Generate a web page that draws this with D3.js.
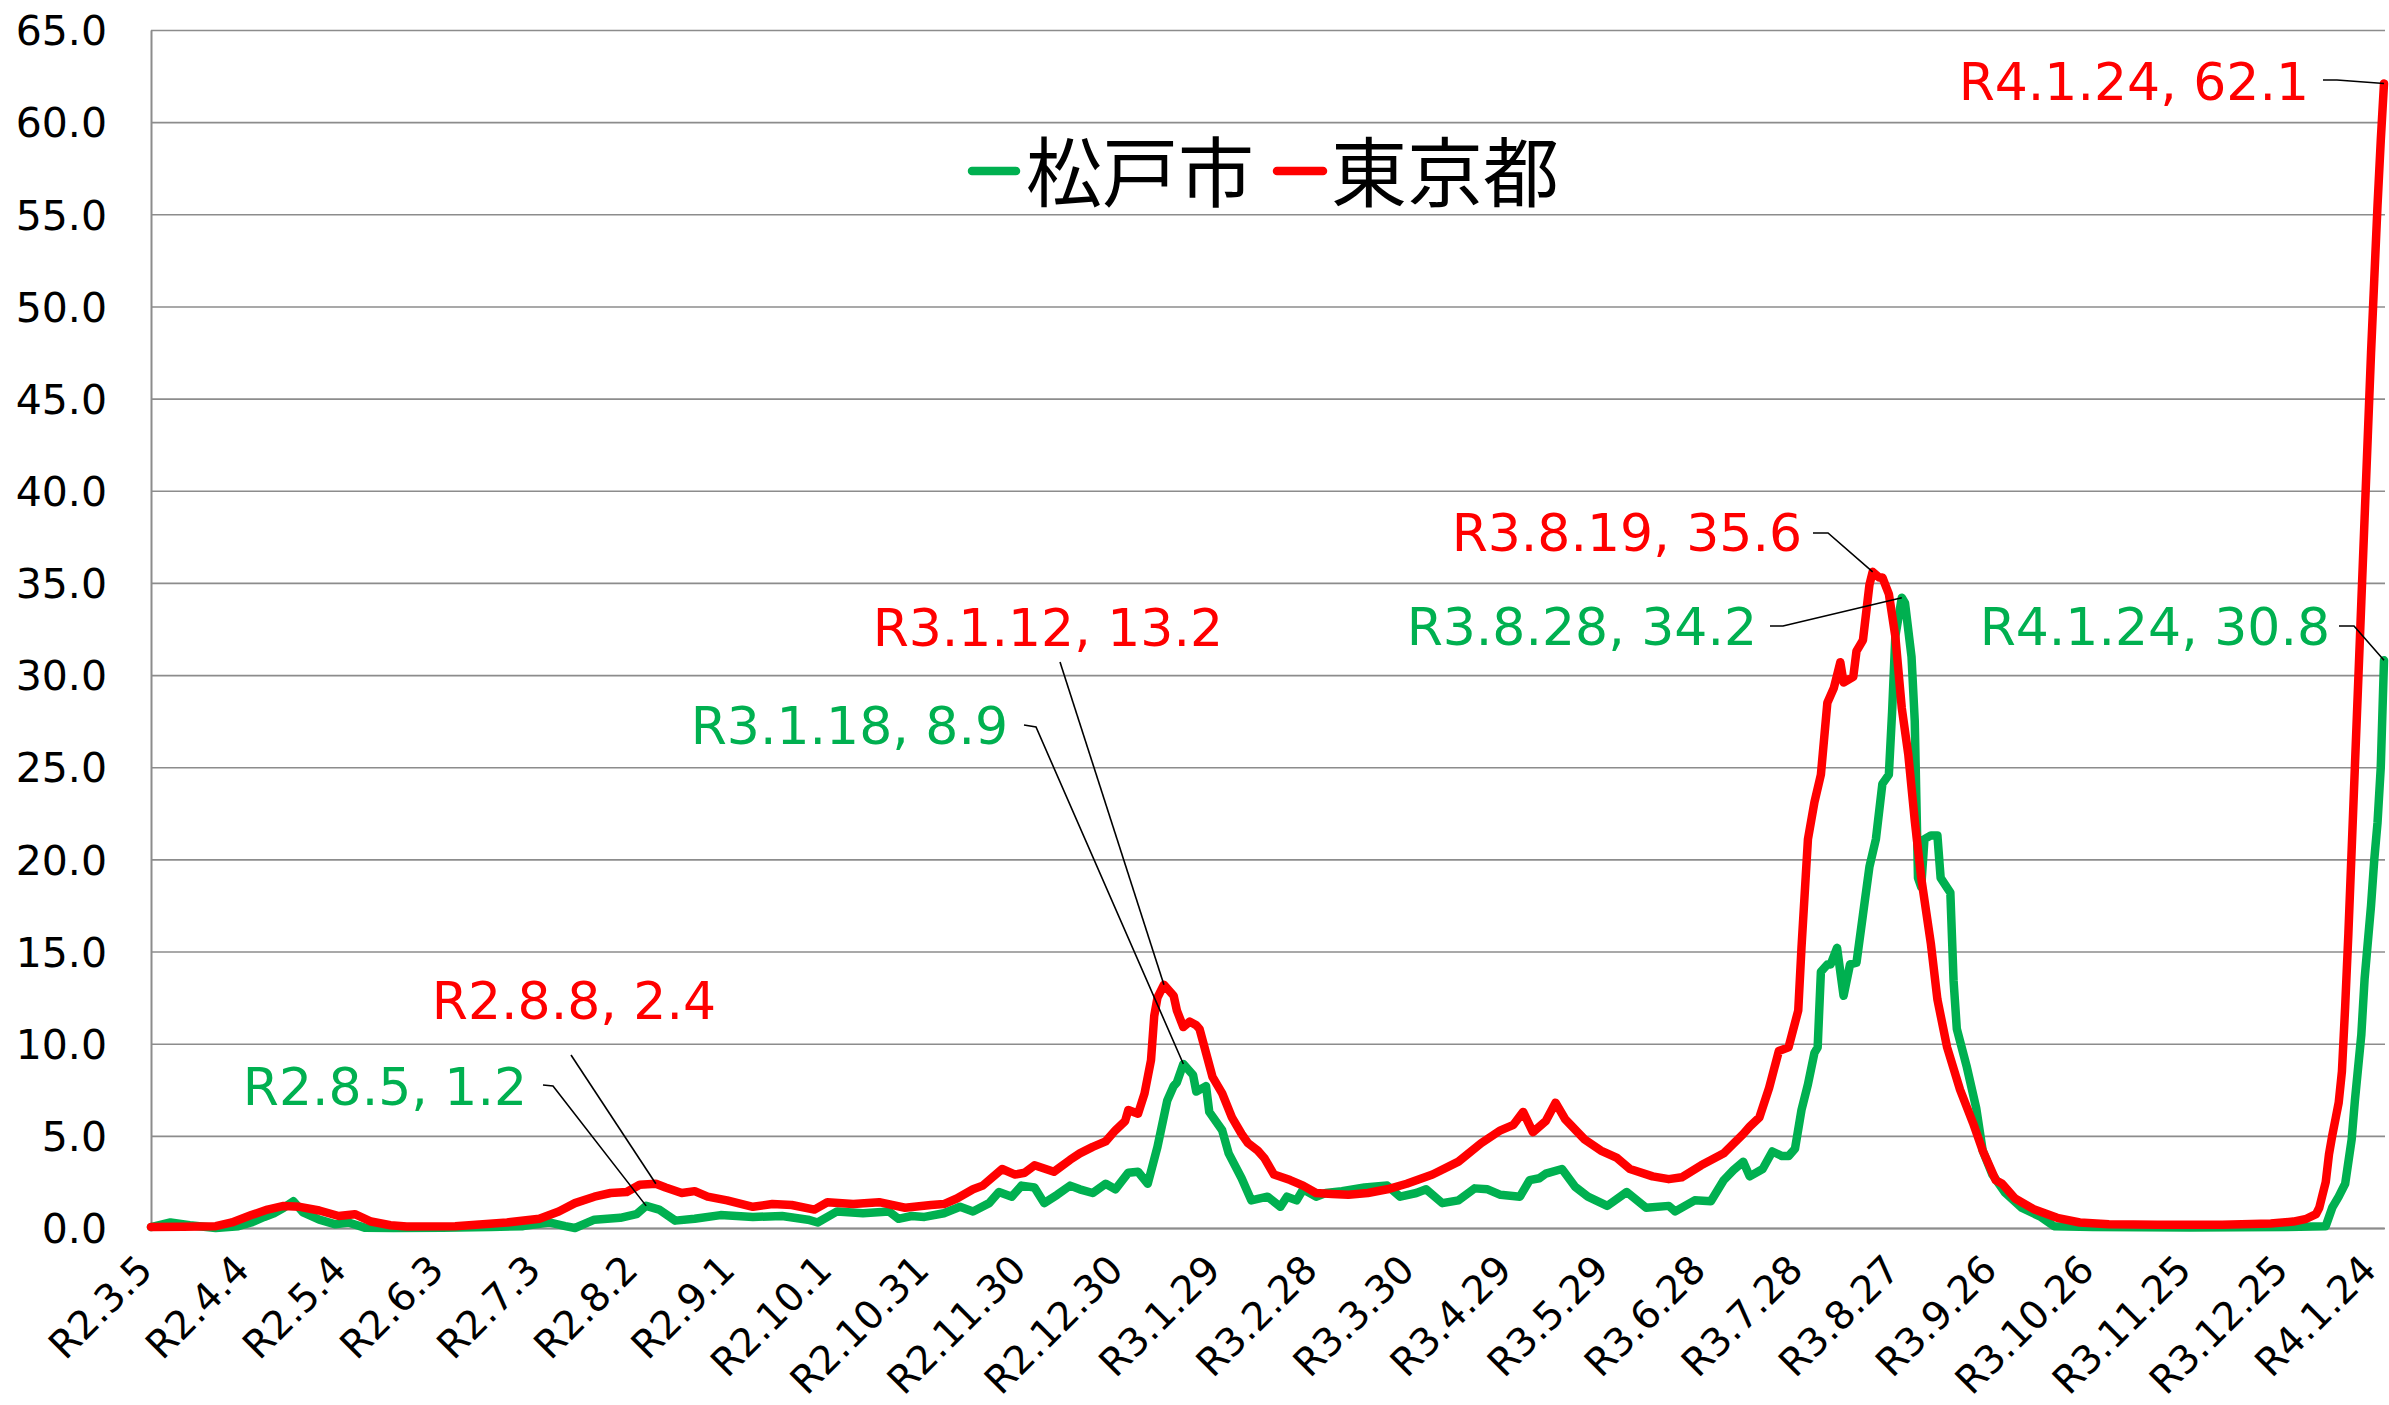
<!DOCTYPE html>
<html>
<head>
<meta charset="utf-8">
<script src="https://cdn.jsdelivr.net/npm/d3@7"></script>
<style>
  html, body { margin: 0; padding: 0; background: #fff; }
  svg { display: block; }
</style>
</head>
<body>
<script>
// ---------- DATA (days counted from R2.3.5 = 2020-03-05) ----------
const tickDays   = [0, 30, 60, 90, 120, 150, 180, 210, 240, 270, 300, 330, 360, 390, 420, 450, 480, 510, 540, 570, 600, 630, 660, 690];
const tickLabels = ["R2.3.5","R2.4.4","R2.5.4","R2.6.3","R2.7.3","R2.8.2","R2.9.1","R2.10.1","R2.10.31","R2.11.30","R2.12.30","R3.1.29","R3.2.28","R3.3.30","R3.4.29","R3.5.29","R3.6.28","R3.7.28","R3.8.27","R3.9.26","R3.10.26","R3.11.25","R3.12.25","R4.1.24"];
const yTicks = [0, 5, 10, 15, 20, 25, 30, 35, 40, 45, 50, 55, 60, 65];

const seriesNames = ["松戸市", "東京都"];

const tokyoDay = [0,10,20,25,31,36,41,46,52,58,63,68,74,79,94,110,120,126,131,137,142,147,151,156,159,164,168,172,178,186,192,198,205,209,217,225,233,241,245,249,254,257,263,267,270,273,279,284,287,291,295,298,301,302,305,307,309,310,311,313,316,317,319,321,323,324,326,328,331,334,337,339,342,344,347,352,356,360,365,370,376,382,388,396,404,411,417,421,424,427,431,434,437,443,448,453,457,464,469,473,479,486,492,494,497,500,503,506,509,510,512,514,516,518,520,522,523,526,527,529,531,532,534,535,537,539,541,543,545,547,550,552,555,559,563,566,570,572,576,582,589,596,605,620,640,655,662,666,669,670,671,672,673,674,675,676,677,678,679,680,681,682,683,684,685,686,687,688,689,690];
const tokyoVal = [0.05,0.07,0.1,0.3,0.7,1.0,1.2,1.15,0.95,0.65,0.75,0.35,0.15,0.08,0.1,0.3,0.5,0.9,1.35,1.7,1.9,1.95,2.35,2.4,2.2,1.9,2.0,1.7,1.5,1.15,1.3,1.25,1.0,1.4,1.3,1.4,1.1,1.25,1.3,1.6,2.1,2.3,3.2,2.9,3.0,3.4,3.05,3.7,4.05,4.4,4.7,5.3,5.8,6.4,6.2,7.3,9.1,11.5,12.5,13.2,12.6,11.8,10.9,11.2,11.0,10.8,9.5,8.2,7.3,6.0,5.1,4.6,4.2,3.8,2.9,2.6,2.3,1.9,1.85,1.8,1.9,2.1,2.4,2.9,3.6,4.6,5.3,5.6,6.3,5.2,5.8,6.8,5.9,4.8,4.2,3.8,3.2,2.8,2.65,2.75,3.4,4.05,5.1,5.5,6.0,7.6,9.6,9.8,11.8,15.2,21.1,23.1,24.6,28.5,29.3,30.7,29.6,29.9,31.3,31.9,34.9,35.6,35.3,35.3,34.4,32.1,28.2,25.7,22.1,19.0,15.4,12.4,9.8,7.5,5.7,4.2,2.6,2.4,1.6,1.0,0.55,0.3,0.2,0.18,0.17,0.25,0.35,0.5,0.75,1.1,1.8,2.5,4.0,5.0,5.9,6.8,8.5,12,16,20.5,25,29.5,34,38.5,43,47.5,51.5,55.5,59,62.1];

const matsudoDay = [0,6,12,20,27,31,35,38,41,44,47,52,57,61,66,75,90,105,115,123,128,131,137,145,150,153,157,162,168,176,186,195,203,206,212,220,228,231,235,239,245,250,254,259,262,266,269,273,276,280,284,287,291,295,298,302,305,308,311,314,316,317,319,322,323,326,327,331,333,337,340,345,349,351,354,356,360,363,368,375,382,386,391,394,399,404,409,413,417,423,426,429,431,436,440,444,450,456,462,469,471,477,482,486,489,492,494,498,501,504,506,508,510,512,514,515,516,518,519,521,523,525,527,529,531,533,535,537,538,539,541,542,544,545,546,547,548,550,552,553,556,557,558,561,564,566,569,573,578,584,588,600,630,660,672,674,676,678,680,681,683,684,686,687,688,689,690];
const matsudoVal = [0.05,0.3,0.15,0.0,0.1,0.3,0.6,0.8,1.1,1.45,0.85,0.45,0.2,0.3,0.02,0.0,0.02,0.05,0.1,0.3,0.1,0.0,0.45,0.55,0.75,1.2,1.0,0.4,0.5,0.7,0.6,0.65,0.45,0.3,0.9,0.8,0.9,0.5,0.65,0.6,0.8,1.15,0.9,1.35,1.95,1.7,2.3,2.2,1.35,1.8,2.3,2.1,1.9,2.4,2.1,3.0,3.05,2.4,4.4,6.9,7.7,7.9,8.9,8.3,7.4,7.7,6.3,5.3,4.05,2.7,1.5,1.7,1.15,1.7,1.5,2.1,1.7,1.9,2.0,2.2,2.3,1.7,1.9,2.1,1.35,1.5,2.15,2.1,1.8,1.7,2.6,2.7,2.95,3.2,2.25,1.7,1.2,1.95,1.1,1.2,0.9,1.5,1.45,2.6,3.15,3.6,2.8,3.2,4.15,3.9,3.9,4.3,6.4,7.8,9.5,9.8,13.9,14.3,14.3,15.2,12.6,14.3,14.4,17.0,19.6,21.1,24.1,24.6,28.0,32.1,34.2,33.9,31.0,27.5,19.0,18.5,21.1,21.3,21.3,19.0,18.2,13.4,10.8,8.8,6.5,4.2,2.9,1.9,1.1,0.6,0.1,0.05,0.03,0.05,0.1,1.1,1.7,2.4,4.8,6.9,10.5,13.5,17.5,20,22,25,30.8];

// data labels
const labelSeries = ["matsudo","tokyo","tokyo","matsudo","tokyo","matsudo","tokyo","matsudo"];
const labelDay    = [153, 156, 313, 319, 532, 541, 690, 690];
const labelValue  = [1.2, 2.4, 13.2, 8.9, 35.6, 34.2, 62.1, 30.8];
const labelText   = ["R2.8.5, 1.2","R2.8.8, 2.4","R3.1.12, 13.2","R3.1.18, 8.9","R3.8.19, 35.6","R3.8.28, 34.2","R4.1.24, 62.1","R4.1.24, 30.8"];

(function () {
  const W = 2389, H = 1405;
  const pL = 151, pR = 2384, pT = 30, pB = 1228;
  const GREEN = "#00B050", RED = "#FF0000", GRID = "#8c8c8c";
  const LATIN = "'DejaVu Sans', Verdana, sans-serif";
  const CJK = "'Noto Sans CJK JP', 'Noto Sans', sans-serif";
  const LW = 8.5;

  const svg = d3.select("body").append("svg").attr("width", W).attr("height", H);

  const x = d3.scaleLinear().domain([0, 690]).range([pL, pR]);
  const y = d3.scaleLinear().domain([0, 65]).range([pB, pT]);

  // y axis + grid
  const yAxis = d3.axisLeft(y).tickValues(yTicks).tickFormat(d3.format(".1f"))
    .tickSizeInner(-(pR - pL + 1)).tickSizeOuter(0).tickPadding(44);
  const gy = svg.append("g").attr("transform", `translate(${pL},0)`).call(yAxis);
  gy.select(".domain").attr("stroke", GRID).attr("stroke-width", 2);
  gy.selectAll(".tick line").attr("stroke", GRID).attr("stroke-width", 1.6);
  gy.selectAll(".tick text").attr("font-family", LATIN).attr("font-size", 41)
    .attr("fill", "#000").attr("dy", "0.36em");

  // x axis
  const xAxis = d3.axisBottom(x).tickValues(tickDays)
    .tickFormat((d, i) => tickLabels[i]).tickSize(0);
  const gx = svg.append("g").attr("transform", `translate(0,${pB})`).call(xAxis);
  gx.select(".domain").attr("stroke", GRID).attr("stroke-width", 2);
  const nT = tickDays.length;
  gx.selectAll(".tick text")
    .each(function (d, i) {
      const ox = i === nT - 1 ? -6 : 3, oy = 44;
      d3.select(this)
        .attr("font-family", LATIN).attr("font-size", 39).attr("fill", "#000")
        .attr("text-anchor", "end").attr("x", ox).attr("y", oy).attr("dy", 0)
        .attr("transform", `rotate(-45, ${ox}, ${oy})`);
    });

  // lines
  const line = d3.line().x(d => x(d[0])).y(d => y(d[1]));
  const matsudo = matsudoDay.map((d, i) => [d, matsudoVal[i]]);
  const tokyo = tokyoDay.map((d, i) => [d, tokyoVal[i]]);

  svg.append("path").datum(matsudo).attr("d", line)
    .attr("fill", "none").attr("stroke", GREEN).attr("stroke-width", LW)
    .attr("stroke-linejoin", "round").attr("stroke-linecap", "round");
  svg.append("path").datum(tokyo).attr("d", line)
    .attr("fill", "none").attr("stroke", RED).attr("stroke-width", LW)
    .attr("stroke-linejoin", "round").attr("stroke-linecap", "round");

  // legend
  const legend = svg.append("g");
  legend.append("line").attr("x1", 972).attr("x2", 1016).attr("y1", 171).attr("y2", 171)
    .attr("stroke", GREEN).attr("stroke-width", LW).attr("stroke-linecap", "round");
  legend.append("text").attr("x", 1026).attr("y", 201).text(seriesNames[0])
    .attr("font-family", CJK).attr("font-size", 76).attr("fill", "#000");
  legend.append("line").attr("x1", 1277).attr("x2", 1323).attr("y1", 171).attr("y2", 171)
    .attr("stroke", RED).attr("stroke-width", LW).attr("stroke-linecap", "round");
  legend.append("text").attr("x", 1331).attr("y", 201).text(seriesNames[1])
    .attr("font-family", CJK).attr("font-size", 76).attr("fill", "#000");

  // data labels: text end x / baseline y and leader start points
  const labelPos = [
    {tx: 527, ty: 1105, leader: [[543,1085],[553,1086]]},
    {tx: 716, ty: 1019, leader: [[571,1055]]},
    {tx: 1223, ty: 646, leader: [[1060,662]]},
    {tx: 1008, ty: 744, leader: [[1024,725],[1036,727]]},
    {tx: 1802, ty: 551, leader: [[1813,533],[1828,533]]},
    {tx: 1757, ty: 645, leader: [[1770,626],[1783,626]]},
    {tx: 2309, ty: 100, leader: [[2323,80],[2337,80]]},
    {tx: 2330, ty: 645, leader: [[2339,626],[2354,626]]}
  ];

  const lab = svg.append("g");
  labelText.forEach((t, i) => {
    const col = labelSeries[i] === "tokyo" ? RED : GREEN;
    const p = labelPos[i];
    const pts = p.leader.concat([[x(labelDay[i]), y(labelValue[i])]]);
    lab.append("path").attr("d", d3.line()(pts))
      .attr("fill", "none").attr("stroke", "#000").attr("stroke-width", 1.6);
    lab.append("text").attr("x", p.tx).attr("y", p.ty).attr("text-anchor", "end")
      .attr("font-family", LATIN).attr("font-size", 52).attr("fill", col).text(t);
  });
})();
</script>
</body>
</html>
